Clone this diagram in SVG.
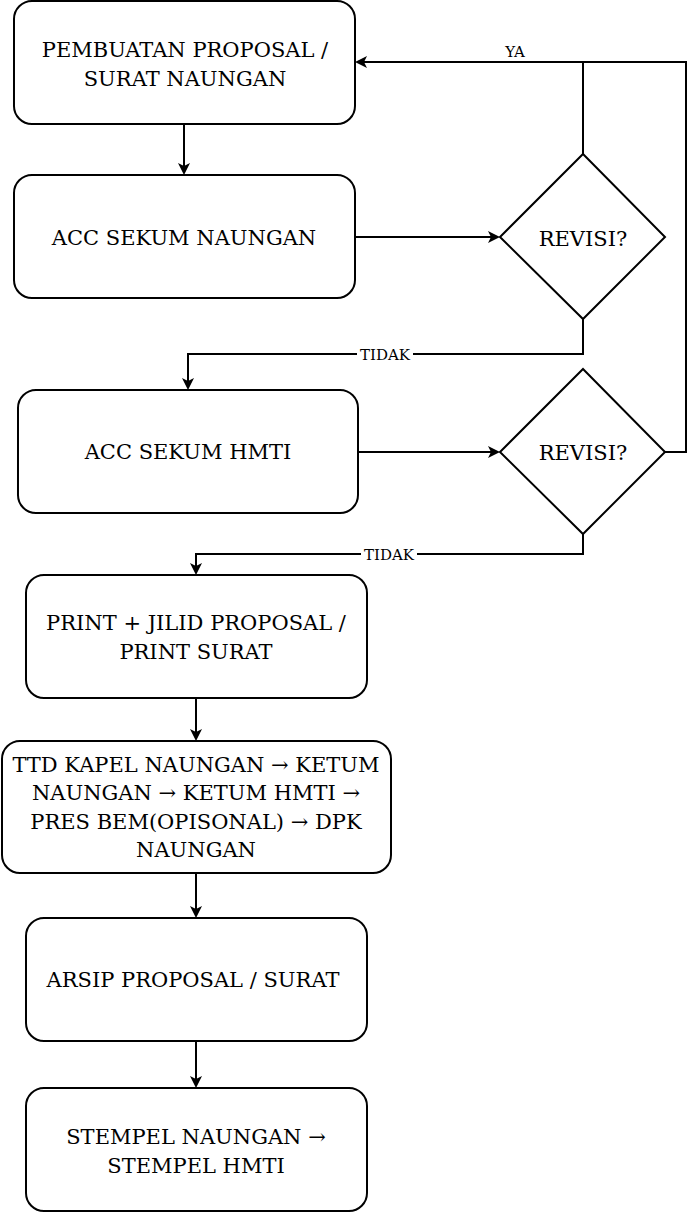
<svg xmlns="http://www.w3.org/2000/svg" width="696" height="1213" viewBox="0 0 696 1213">
<style>
.n{fill:#fff;stroke:#000;stroke-width:2}
.t{font-family:'DejaVu Serif',serif;font-size:21px;fill:#000;text-anchor:middle}
.c{fill:none;stroke:#000;stroke-width:2}
.l{font-family:'DejaVu Serif',serif;font-size:15px;fill:#000;text-anchor:middle}
.h{fill:#000}
</style>
<rect width="696" height="1213" fill="#fff"/>
<g id="connectors">
<path class="c" d="M184,124 V173"/>
<path class="c" d="M355,237 H498"/>
<path class="c" d="M583,154 V62 H357"/>
<path class="c" d="M665,452 H686 V62 H583"/>
<path class="c" d="M583,319 V354 H188 V388"/>
<path class="c" d="M358,452 H498"/>
<path class="c" d="M583,534 V554 H196 V573"/>
<path class="c" d="M196,698 V739"/>
<path class="c" d="M196,873 V916"/>
<path class="c" d="M196,1041 V1086"/>
<path class="h" d="M184,175 L178,163 L184,166 L190,163 Z"/>
<path class="h" d="M500,237 L488,231 L491,237 L488,243 Z"/>
<path class="h" d="M355,62 L367,56 L364,62 L367,68 Z"/>
<path class="h" d="M188,390 L182,378 L188,381 L194,378 Z"/>
<path class="h" d="M500,452 L488,446 L491,452 L488,458 Z"/>
<path class="h" d="M196,575 L190,563 L196,566 L202,563 Z"/>
<path class="h" d="M196,741 L190,729 L196,732 L202,729 Z"/>
<path class="h" d="M196,918 L190,906 L196,909 L202,906 Z"/>
<path class="h" d="M196,1088 L190,1076 L196,1079 L202,1076 Z"/>
<rect x="500" y="43" width="30" height="17" fill="#fff"/>
<text class="l" x="515" y="57">YA</text>
<rect x="357" y="346" width="56" height="16" fill="#fff"/>
<text class="l" x="385" y="360">TIDAK</text>
<rect x="361" y="546" width="56" height="16" fill="#fff"/>
<text class="l" x="389" y="560">TIDAK</text>
</g>
<g id="n1"><rect class="n" x="14" y="1" width="341" height="123" rx="18"/>
<text class="t" x="185" y="56.5">PEMBUATAN PROPOSAL /</text><text class="t" x="185" y="86">SURAT NAUNGAN</text></g>
<g id="n2"><rect class="n" x="14" y="175" width="341" height="123" rx="18"/>
<text class="t" x="184" y="245">ACC SEKUM NAUNGAN</text></g>
<g id="d1"><path class="n" d="M583,154 L665,237 L583,319 L500,237 Z"/>
<text class="t" x="583" y="246">REVISI?</text></g>
<g id="n3"><rect class="n" x="18" y="390" width="340" height="123" rx="18"/>
<text class="t" x="188" y="459">ACC SEKUM HMTI</text></g>
<g id="d2"><path class="n" d="M583,369 L665,452 L583,534 L500,452 Z"/>
<text class="t" x="583" y="460">REVISI?</text></g>
<g id="n4"><rect class="n" x="26" y="575" width="341" height="123" rx="18"/>
<text class="t" x="196" y="630">PRINT + JILID PROPOSAL /</text><text class="t" x="196" y="659">PRINT SURAT</text></g>
<g id="n5"><rect class="n" x="2" y="741" width="389" height="132" rx="18"/>
<text class="t" x="196" y="772">TTD KAPEL NAUNGAN → KETUM</text>
<text class="t" x="196" y="800">NAUNGAN → KETUM HMTI →</text>
<text class="t" x="196" y="828.5">PRES BEM(OPISONAL) → DPK</text>
<text class="t" x="196" y="857">NAUNGAN</text></g>
<g id="n6"><rect class="n" x="26" y="918" width="341" height="123" rx="18"/>
<text class="t" x="193" y="987">ARSIP PROPOSAL / SURAT</text></g>
<g id="n7"><rect class="n" x="26" y="1088" width="341" height="123" rx="18"/>
<text class="t" x="196" y="1144">STEMPEL NAUNGAN →</text><text class="t" x="196" y="1172.5">STEMPEL HMTI</text></g>
</svg>
